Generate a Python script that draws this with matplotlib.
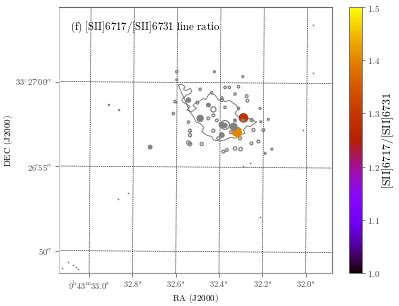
import numpy as np
import matplotlib
matplotlib.use('Agg')
from matplotlib import pyplot as plt
matplotlib.rcParams['mathtext.fontset'] = 'cm'
matplotlib.rcParams['font.family'] = ['DejaVu Serif']

# contour outline (RA seconds, Dec arcsec past 33d26m)
outline_ra = [32.588, 32.572, 32.557, 32.564, 32.552, 32.534, 32.525, 32.531, 32.549, 32.560, 32.572, 32.566,
              32.557, 32.545, 32.534, 32.549, 32.526, 32.515, 32.503, 32.520, 32.511, 32.492, 32.472, 32.462,
              32.450, 32.441, 32.418, 32.410, 32.403, 32.385, 32.372, 32.352, 32.333, 32.320, 32.310, 32.326,
              32.303, 32.284, 32.264, 32.245, 32.226, 32.240, 32.256, 32.270, 32.287, 32.280, 32.295, 32.310,
              32.326, 32.345, 32.372, 32.398, 32.426, 32.433, 32.455, 32.480, 32.470, 32.487, 32.505, 32.518,
              32.534]
outline_dec = [59.79, 59.85, 59.69, 59.52, 59.46, 59.60, 59.45, 59.30, 59.20, 59.08, 58.90, 58.78,
               58.71, 58.62, 58.51, 58.31, 58.21, 58.32, 58.41, 58.58, 58.71, 58.82, 59.00, 58.92,
               59.18, 59.30, 59.20, 59.05, 58.90, 58.95, 58.81, 58.88, 58.71, 58.60, 58.41, 58.12,
               57.82, 57.95, 57.82, 57.70, 57.62, 57.48, 57.33, 57.38, 57.13, 56.93, 56.88, 56.74,
               56.64, 56.70, 56.54, 56.48, 56.54, 56.74, 56.82, 57.03, 57.28, 57.52, 57.60, 57.92,
               58.21]

# small contour rings
ring_ra = [32.611, 32.603, 32.595, 32.449, 32.426, 32.487, 32.449, 32.387, 32.352, 32.372, 32.310, 32.272, 32.326,
           32.269, 32.310, 32.372, 32.434, 32.534, 32.534, 32.541, 32.534, 32.480, 32.426, 32.403, 32.326, 32.300,
           32.380, 32.364, 32.241, 32.218, 32.187, 32.156, 32.172, 32.195, 32.207, 32.249, 32.210, 32.303, 32.421,
           32.290, 32.595, 32.250, 32.487, 32.387, 32.426, 32.372, 32.500, 32.541, 32.410, 32.345]
ring_dec = [58.11, 58.81, 60.58, 58.61, 58.35, 57.82, 57.82, 58.90, 59.65, 59.65, 59.69, 59.14, 59.26,
            58.87, 58.41, 58.47, 59.34, 57.09, 56.83, 56.38, 56.30, 56.30, 57.09, 56.64, 56.04, 56.00,
            55.85, 55.95, 57.13, 56.45, 55.75, 56.00, 57.76, 57.13, 57.62, 57.72, 58.41, 56.64, 60.58,
            60.29, 60.10, 56.34, 59.54, 59.03, 58.00, 57.43, 58.75, 57.60, 57.70, 57.00]
ring_size = [3, 3, 3, 6, 14, 4, 4, 5, 3, 3, 3, 4, 3,
             4, 3, 3, 3, 5, 5, 7, 6, 5, 5, 5, 6, 6,
             4, 4, 5, 4, 2, 2, 2, 4, 2, 5, 2, 5, 2,
             2, 2, 4, 3, 3, 4, 40, 4, 3, 4, 4]

# solid grey clumps
blob_ra = [32.541, 32.487, 32.387, 32.333, 32.372, 32.387, 32.449, 32.326, 32.718, 32.289, 32.908, 32.861]
blob_dec = [58.90, 57.82, 57.43, 57.33, 57.40, 56.83, 58.61, 57.70, 56.12, 57.70, 58.61, 58.31]
blob_size = [16, 28, 22, 34, 14, 18, 10, 8, 12, 9, 3, 3]

# isolated specks
speck_ra = [32.598, 32.612, 32.866, 32.820, 33.125, 33.097, 33.074, 33.060, 33.051, 32.289, 32.256, 32.210,
            31.965, 31.965, 32.012, 32.533, 32.533, 32.533]
speck_dec = [58.79, 58.08, 53.05, 53.40, 48.96, 49.32, 49.14, 49.02, 48.91, 55.00, 55.18, 51.98,
             63.34, 60.50, 57.13, 57.07, 56.78, 56.36]

# line ratio pixels
ratio_ra = [32.287, 32.318]
ratio_dec = [57.85, 57.03]
ratio_val = [1.29, 1.40]
ratio_size = [48, 55]

ra_ticks = [33.0, 32.8, 32.6, 32.4, 32.2, 32.0]
ra_labels = [r'$9^{\mathrm{h}}43^{\mathrm{m}}33.0^{\mathrm{s}}$', r'$32.8^{\mathrm{s}}$', r'$32.6^{\mathrm{s}}$',
             r'$32.4^{\mathrm{s}}$', r'$32.2^{\mathrm{s}}$', r'$32.0^{\mathrm{s}}$']
dec_ticks = [50, 55, 60]
dec_labels = [r"$50^{\prime\prime}$", r"$26^{\prime}55^{\prime\prime}$", r"$33^{\circ}27^{\prime}00^{\prime\prime}$"]
cbar_ticks = [1.0, 1.1, 1.2, 1.3, 1.4, 1.5]

fig = plt.figure(figsize=(3.99, 3.06), dpi=100)
ax = fig.add_axes([59 / 399, 1 - 273 / 306, 273 / 399, 266 / 306])
ax.set_xlim(33.139, 31.878)
ax.set_ylim(48.67, 64.41)

# slightly tilted coordinate grid
ra_lim = ax.get_xlim()
dec_lim = ax.get_ylim()
for r in ra_ticks:
    ax.plot([r, r - 0.0092], [dec_lim[0], dec_lim[1]], color='#333333', lw=0.5, ls=(0, (2, 1)), zorder=1)
for d in dec_ticks:
    ax.plot([ra_lim[0], ra_lim[1]], [d, d - 0.12], color='#333333', lw=0.5, ls=(0, (2, 1)), zorder=1)

grey = '#808080'
ax.plot(outline_ra + outline_ra[:1], outline_dec + outline_dec[:1], color=grey, lw=0.7, zorder=2)
ax.scatter(ring_ra, ring_dec, s=ring_size, facecolors='none', edgecolors=grey, linewidths=0.9, zorder=2)
sc = ax.scatter(ratio_ra, ratio_dec, s=ratio_size, c=ratio_val, cmap='gnuplot', vmin=1.0, vmax=1.5, marker='o',
                linewidths=0, zorder=3)
ax.scatter(blob_ra, blob_dec, s=blob_size, color=grey, linewidths=0, zorder=4)
ax.scatter(speck_ra, speck_dec, s=1.5, color='#777777', linewidths=0, zorder=2)

ax.set_xticks(ra_ticks)
ax.set_xticklabels(ra_labels)
ax.set_yticks(dec_ticks)
ax.set_yticklabels(dec_labels)
ax.tick_params(length=3, width=0.5, labelsize=6, colors='#444444', pad=2)
ax.set_xlabel(r'$\mathrm{RA\ (J2000)}$', fontsize=6.5, labelpad=0)
ax.xaxis.set_label_coords(0.5, -0.07)
ax.set_ylabel(r'$\mathrm{DEC\ (J2000)}$', fontsize=6.5, labelpad=0)
ax.yaxis.set_label_coords(-0.16, 0.5)
for name, col in [('left', '#cccccc'), ('top', '#666666'), ('right', '#777777'), ('bottom', '#999999')]:
    ax.spines[name].set_color(col)
    ax.spines[name].set_linewidth(0.8)
ax.text(0.04, 0.925, r'$\mathrm{(f)\ [SII]6717/[SII]6731\ line\ ratio}$', transform=ax.transAxes,
        fontsize=7.8, ha='left', va='center')

cax = fig.add_axes([349 / 399, 1 - 273 / 306, 13 / 399, 266 / 306])
cb = fig.colorbar(sc, cax=cax)
cb.set_ticks(cbar_ticks)
cb.set_ticklabels([r'$%.1f$' % t for t in cbar_ticks])
cb.ax.tick_params(length=2, width=0.5, labelsize=6.5, colors='#444444', pad=1.5)
cb.outline.set_edgecolor('#666666')
cb.outline.set_linewidth(0.6)
cb.set_label(r'$\mathrm{[SII]6717/[SII]6731}$', fontsize=8.5, labelpad=0)
cb.ax.yaxis.set_label_coords(2.35, 0.5)

plt.savefig('out.png', dpi=100)
